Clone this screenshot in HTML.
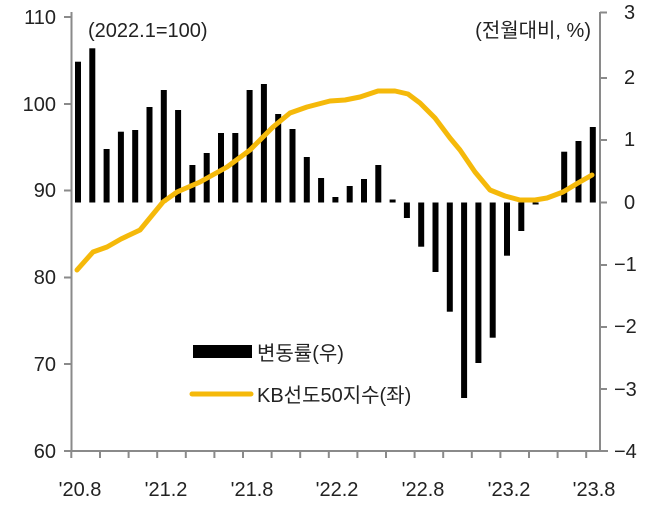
<!DOCTYPE html>
<html><head><meta charset="utf-8"><style>
html,body{margin:0;padding:0;background:#fff;}
svg{display:block;}
text{font-family:"Liberation Sans","Noto Sans CJK KR",sans-serif;fill:#222;font-size:20px;}
</style></head><body>
<svg width="663" height="506" viewBox="0 0 663 506" xmlns="http://www.w3.org/2000/svg">
<g fill="#000">
<rect x="75" y="61.7" width="6" height="140.8"/>
<rect x="89.3" y="48.3" width="6" height="154.2"/>
<rect x="103.6" y="149" width="6" height="53.5"/>
<rect x="117.9" y="131.7" width="6" height="70.8"/>
<rect x="132.2" y="130" width="6" height="72.5"/>
<rect x="146.5" y="107" width="6" height="95.5"/>
<rect x="160.8" y="90" width="6" height="112.5"/>
<rect x="175.1" y="110" width="6" height="92.5"/>
<rect x="189.4" y="165" width="6" height="37.5"/>
<rect x="203.7" y="153" width="6" height="49.5"/>
<rect x="218" y="133" width="6" height="69.5"/>
<rect x="232.3" y="133" width="6" height="69.5"/>
<rect x="246.6" y="90" width="6" height="112.5"/>
<rect x="260.9" y="84" width="6" height="118.5"/>
<rect x="275.2" y="114" width="6" height="88.5"/>
<rect x="289.5" y="129" width="6" height="73.5"/>
<rect x="303.8" y="157" width="6" height="45.5"/>
<rect x="318.1" y="178" width="6" height="24.5"/>
<rect x="332.4" y="197" width="6" height="5.5"/>
<rect x="346.7" y="186" width="6" height="16.5"/>
<rect x="361" y="179" width="6" height="23.5"/>
<rect x="375.3" y="165" width="6" height="37.5"/>
<rect x="389.6" y="199.5" width="6" height="3"/>
<rect x="403.9" y="202.5" width="6" height="15.5"/>
<rect x="418.2" y="202.5" width="6" height="44.2"/>
<rect x="432.5" y="202.5" width="6" height="69.5"/>
<rect x="446.8" y="202.5" width="6" height="109.2"/>
<rect x="461.1" y="202.5" width="6" height="195.5"/>
<rect x="475.4" y="202.5" width="6" height="160.5"/>
<rect x="489.7" y="202.5" width="6" height="135.2"/>
<rect x="504" y="202.5" width="6" height="53.2"/>
<rect x="518.3" y="202.5" width="6" height="28.5"/>
<rect x="532.6" y="202.5" width="6" height="2"/>
<rect x="561.2" y="151.7" width="6" height="50.8"/>
<rect x="575.5" y="141" width="6" height="61.5"/>
<rect x="589.8" y="127" width="6" height="75.5"/>
</g>
<path d="M77,270 L93,252 L107,247 L121,239 L140,230 L163,202 L177,192 L200,182 L227,167 L250,150 L273,127 L290,113 L307,107 L330,101 L345,100 L360,97 L378,91 L395,91 L408,94 L420,103 L435,118 L450,138 L460,150 L475,172 L490,190 L505,196 L520,200 L535,200 L547,198 L563,192 L578,183 L592,175" fill="none" stroke="#F5B90A" stroke-width="5" stroke-linejoin="round" stroke-linecap="round"/>
<g stroke="#8a8a8a" stroke-width="2" fill="none">
<line x1="71.5" y1="12" x2="71.5" y2="451"/>
<line x1="600" y1="12" x2="600" y2="451"/>
<line x1="64" y1="451" x2="608" y2="451"/>
<line x1="64" y1="17" x2="71" y2="17"/>
<line x1="64" y1="104" x2="71" y2="104"/>
<line x1="64" y1="190.5" x2="71" y2="190.5"/>
<line x1="64" y1="277.5" x2="71" y2="277.5"/>
<line x1="64" y1="364" x2="71" y2="364"/>
<line x1="600" y1="12.5" x2="607" y2="12.5"/>
<line x1="600" y1="78" x2="607" y2="78"/>
<line x1="600" y1="140" x2="607" y2="140"/>
<line x1="600" y1="202.5" x2="607" y2="202.5"/>
<line x1="600" y1="265" x2="607" y2="265"/>
<line x1="600" y1="327" x2="607" y2="327"/>
<line x1="600" y1="389" x2="607" y2="389"/>
<path d="M71.3,451v7 M100,451v7 M128.6,451v7 M157.2,451v7 M185.8,451v7 M214.4,451v7 M243,451v7 M271.6,451v7 M300.2,451v7 M328.8,451v7 M357.4,451v7 M386,451v7 M414.6,451v7 M443.2,451v7 M471.8,451v7 M500.4,451v7 M529,451v7 M557.6,451v7 M586.2,451v7"/>
</g>
<g text-anchor="end">
<text x="56" y="24">110</text>
<text x="56" y="111">100</text>
<text x="56" y="197">90</text>
<text x="56" y="284">80</text>
<text x="56" y="371">70</text>
<text x="56" y="458">60</text>
</g>
<g text-anchor="start">
<text x="624" y="19">3</text>
<text x="624" y="84">2</text>
<text x="624" y="146">1</text>
<text x="624" y="209">0</text>
<text x="614" y="271">−1</text>
<text x="614" y="333">−2</text>
<text x="614" y="396">−3</text>
<text x="614" y="458">−4</text>
</g>
<g text-anchor="middle">
<text x="80" y="496">'20.8</text>
<text x="166" y="496">'21.2</text>
<text x="252" y="496">'21.8</text>
<text x="337" y="496">'22.2</text>
<text x="423" y="496">'22.8</text>
<text x="509" y="496">'23.2</text>
<text x="594" y="496">'23.8</text>
</g>
<text x="88" y="37">(2022.1=100)</text>
<text x="591" y="37" text-anchor="end">(전월대비, %)</text>
<rect x="193" y="345" width="59" height="13" fill="#000"/>
<text x="257" y="360">변동률(우)</text>
<line x1="192" y1="394" x2="251" y2="394" stroke="#F5B90A" stroke-width="5" stroke-linecap="round"/>
<text x="257" y="402">KB선도50지수(좌)</text>
</svg>
</body></html>
